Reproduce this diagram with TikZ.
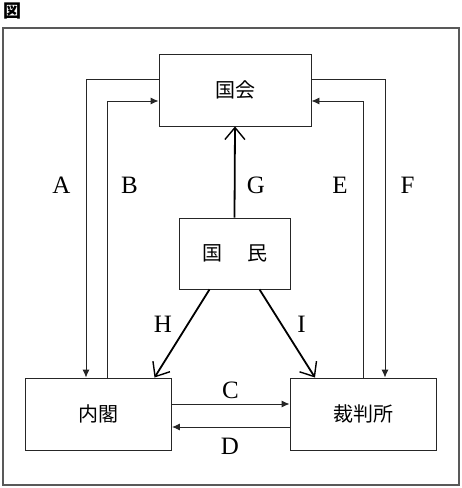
\documentclass[tikz,border=0pt]{standalone}
\usepackage{fontspec}
\newfontfamily\jpfont{Noto Sans CJK JP}
\newfontfamily\letterfont{Liberation Serif}
\usepackage{tikz}
\usetikzlibrary{arrows.meta}
\tikzset{
  organ/.style={draw=black!85, line width=0.9pt, fill=white, inner sep=0pt,
    font=\jpfont\fontsize{20}{24}\selectfont},
  letter/.style={inner sep=0pt, font=\letterfont\fontsize{25}{28}\selectfont},
  thinarrow/.style={draw=black!85, line width=0.9pt, -{Latex[length=8pt,width=7pt]}},
  thickarrow/.style={draw=black, line width=1.8pt, -{Straight Barb[length=12pt,width=20pt,line width=1.4pt]}}
}

\begin{document}
\begin{tikzpicture}[x=1pt, y=-1pt]
        \useasboundingbox (0,0) rectangle (462,488);
        \draw[black!65, line width=1.5pt] (3,28) rectangle (459,485);
        \node[inner sep=0pt, font=\jpfont\bfseries\fontsize{18}{20}\selectfont] (fig) at (13,11) {図};

        \node[organ, minimum width=152pt, minimum height=72pt] (kokkai) at (235,90) {国会};
        \node[organ, minimum width=111pt, minimum height=71pt] (kokumin) at (234.5,253.5) {国\hspace{1.25em}民};
        \node[organ, minimum width=146pt, minimum height=72pt] (naikaku) at (98.5,414) {内閣};
        \node[organ, minimum width=146pt, minimum height=72pt] (saiban) at (363,414) {裁判所};

        \draw[thinarrow] ([yshift=11pt]kokkai.west) -| ([xshift=-12.5pt]naikaku.north);
        \draw[thinarrow] ([xshift=8.5pt]naikaku.north) |- ([yshift=-11pt]kokkai.west);
        \draw[thinarrow] (saiban.north) |- ([yshift=-11pt]kokkai.east);
        \draw[thinarrow] ([yshift=11pt]kokkai.east) -| ([xshift=22pt]saiban.north);
        \draw[thinarrow] ([yshift=10pt]naikaku.east) -- ([yshift=10pt]saiban.west);
        \draw[thinarrow] ([yshift=-13pt]saiban.west) -- ([yshift=-13pt]naikaku.east);

        \draw[thickarrow] (kokumin.north) -- (kokkai.south);
        \draw[thickarrow] ([xshift=-25pt]kokumin.south) -- ([xshift=56pt]naikaku.north);
        \draw[thickarrow] ([xshift=25pt]kokumin.south) -- ([xshift=-48pt]saiban.north);

        \foreach \name/\x/\y in {
          A/61.5/185, B/129.5/185, G/256/185, E/340/185, F/407.5/185,
          H/163/324, I/301.5/324, C/230.5/390, D/230/446}
        \node[letter] (l\name) at (\x,\y) {\name};
    \end{tikzpicture}
\end{document}
